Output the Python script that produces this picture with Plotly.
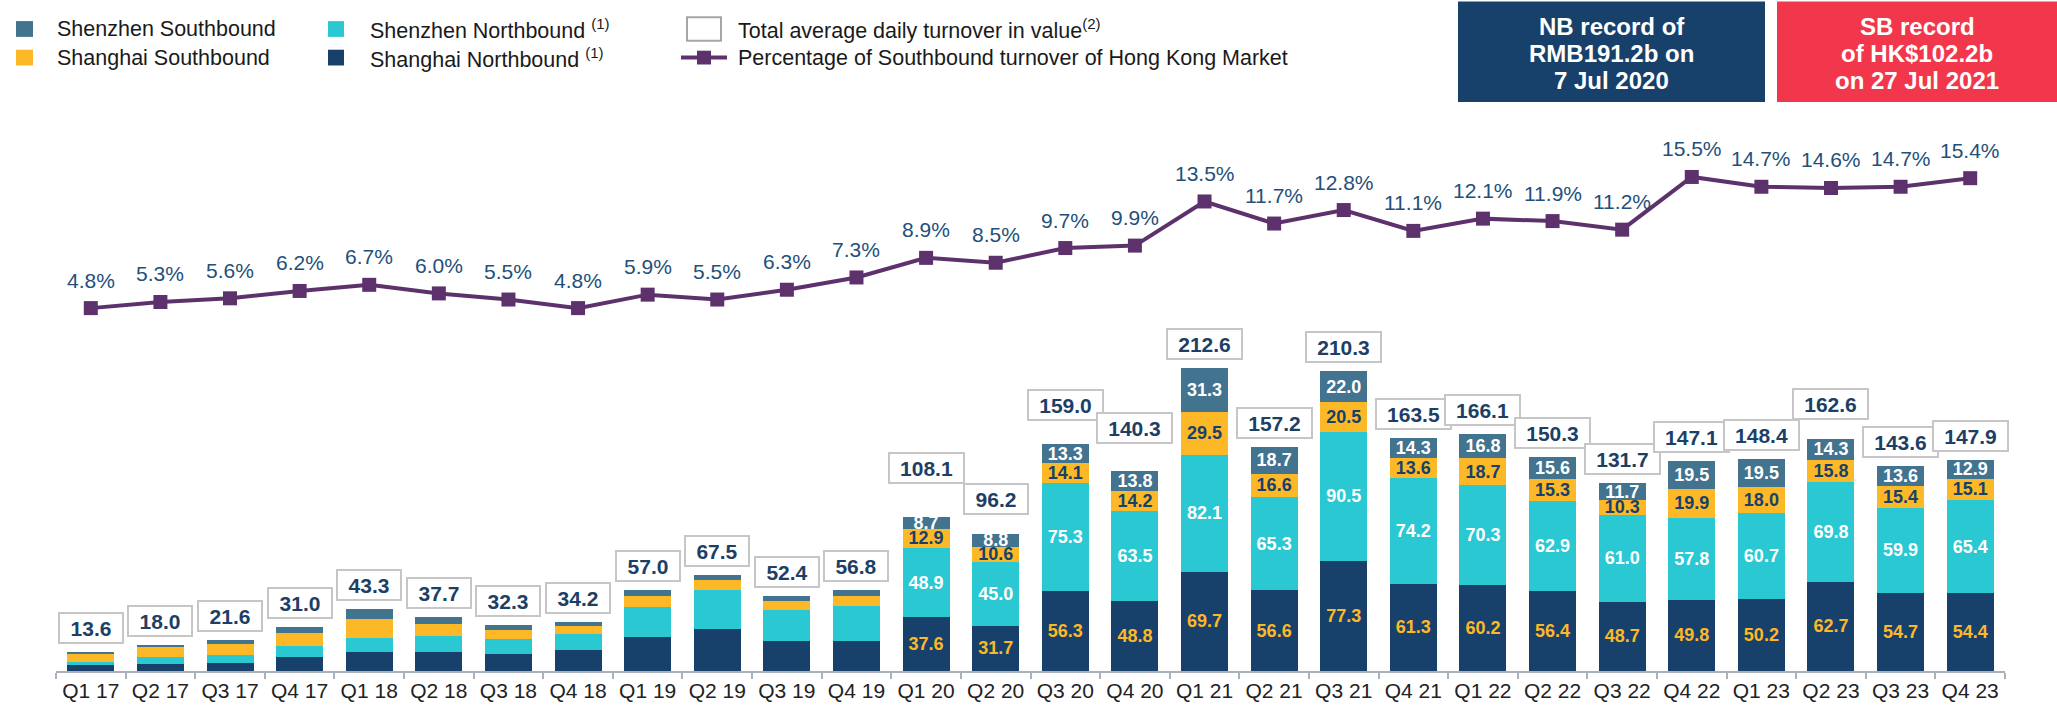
import plotly.graph_objects as go

# ---------------- data ----------------
quarters = ["Q1 17", "Q2 17", "Q3 17", "Q4 17", "Q1 18", "Q2 18", "Q3 18", "Q4 18",
            "Q1 19", "Q2 19", "Q3 19", "Q4 19", "Q1 20", "Q2 20", "Q3 20", "Q4 20",
            "Q1 21", "Q2 21", "Q3 21", "Q4 21", "Q1 22", "Q2 22", "Q3 22", "Q4 22",
            "Q1 23", "Q2 23", "Q3 23", "Q4 23"]
shanghai_nb = [3.9, 5.0, 5.9, 9.6, 13.2, 13.5, 12.1, 14.8, 24.0, 29.8, 20.8, 21.3,
               37.6, 31.7, 56.3, 48.8, 69.7, 56.6, 77.3, 61.3, 60.2, 56.4, 48.7, 49.8,
               50.2, 62.7, 54.7, 54.4]
shenzhen_nb = [2.4, 4.5, 5.0, 8.2, 10.2, 11.2, 10.2, 11.2, 20.8, 27.0, 21.8, 24.1,
               48.9, 45.0, 75.3, 63.5, 82.1, 65.3, 90.5, 74.2, 70.3, 62.9, 61.0, 57.8,
               60.7, 69.8, 59.9, 65.4]
shanghai_sb = [6.3, 7.1, 8.3, 9.0, 13.4, 8.1, 6.3, 5.4, 7.6, 7.0, 6.3, 7.0,
               12.9, 10.6, 14.1, 14.2, 29.5, 16.6, 20.5, 13.6, 18.7, 15.3, 10.3, 19.9,
               18.0, 15.8, 15.4, 15.1]
shenzhen_sb = [1.0, 1.4, 2.4, 4.2, 6.5, 4.9, 3.7, 2.8, 4.6, 3.7, 3.5, 4.4,
               8.7, 8.8, 13.3, 13.8, 31.3, 18.7, 22.0, 14.3, 16.8, 15.6, 11.7, 19.5,
               19.5, 14.3, 13.6, 12.9]
totals = [13.6, 18.0, 21.6, 31.0, 43.3, 37.7, 32.3, 34.2, 57.0, 67.5, 52.4, 56.8,
          108.1, 96.2, 159.0, 140.3, 212.6, 157.2, 210.3, 163.5, 166.1, 150.3, 131.7, 147.1,
          148.4, 162.6, 143.6, 147.9]
sb_pct = [4.8, 5.3, 5.6, 6.2, 6.7, 6.0, 5.5, 4.8, 5.9, 5.5, 6.3, 7.3,
          8.9, 8.5, 9.7, 9.9, 13.5, 11.7, 12.8, 11.1, 12.1, 11.9, 11.2, 15.5,
          14.7, 14.6, 14.7, 15.4]

# ---------------- style ----------------
FONT = "Arial, Liberation Sans, sans-serif"
C_SHNB = "#17416b"
C_SZNB = "#29c8d2"
C_SHSB = "#fdb827"
C_SZSB = "#42738f"
C_LINE = "#5d326c"
C_TXT = "#1d3f66"
C_PCT = "#23507a"
C_AXIS = "#a9b1bb"
LABEL_FROM = 12          # segment labels are shown from Q1 20 onwards
box_lift = [24] * len(quarters)   # pixel lift of the total boxes above the bar tops
for i, v in {12: 49, 13: 35, 14: 39, 15: 43, 25: 35}.items():
    box_lift[i] = v

W, H = 2057, 714
ML, MR, MT, MB = 56, 52, 100, 35
PW, PH = W - ML - MR, H - MT - MB


def pxx(x):
    return (x - ML) / PW


def pxy(y):
    return (H - MB - y) / PH


def seg_text(vals):
    return [f"<b>{v:.1f}</b>" if i >= LABEL_FROM else "" for i, v in enumerate(vals)]


fig = go.Figure()
for name, vals, col, tcol in [
    ("Shanghai Northbound", shanghai_nb, C_SHNB, C_SHSB),
    ("Shenzhen Northbound", shenzhen_nb, C_SZNB, "#ffffff"),
    ("Shanghai Southbound", shanghai_sb, C_SHSB, C_SHNB),
    ("Shenzhen Southbound", shenzhen_sb, C_SZSB, "#ffffff"),
]:
    fig.add_trace(go.Bar(
        x=quarters, y=vals, name=name, marker=dict(color=col, line=dict(width=0)),
        text=seg_text(vals), texttemplate="%{text}", textposition="inside",
        insidetextanchor="middle", textangle=0,
        textfont=dict(family=FONT, size=18, color=tcol), constraintext="none",
        cliponaxis=False,
    ))

fig.add_trace(go.Scatter(
    x=quarters, y=sb_pct, yaxis="y2", mode="lines+markers",
    line=dict(color=C_LINE, width=4),
    marker=dict(symbol="square", size=14, color=C_LINE),
    name="Percentage of Southbound turnover of Hong Kong Market",
))

annotations = []
for q, v in zip(quarters, sb_pct):
    annotations.append(dict(x=q, y=v, xref="x", yref="y2", text=f"{v:.1f}%",
                            showarrow=False, yshift=28,
                            font=dict(family=FONT, size=21, color=C_PCT)))
for i, (q, t) in enumerate(zip(quarters, totals)):
    s = f"{t:.1f}"
    annotations.append(dict(x=q, y=t, xref="x", yref="y", text=f"<b>{s}</b>",
                            showarrow=False, yshift=box_lift[i], yanchor="middle",
                            width=60 if len(s) <= 4 else 71, height=26,
                            bgcolor="#ffffff", bordercolor="#c6c6c6", borderwidth=2,
                            borderpad=1,
                            font=dict(family=FONT, size=21, color=C_TXT)))

shapes = []
# legend swatches
leg_rows = [28, 57]
legend_items = [
    (16, 33, leg_rows[0], C_SZSB, 55, "Shenzhen Southbound"),
    (16, 33, leg_rows[1], C_SHSB, 55, "Shanghai Southbound"),
    (328, 344, leg_rows[0], C_SZNB, 368, "Shenzhen Northbound <sup>(1)</sup>"),
    (328, 344, leg_rows[1], C_SHNB, 368, "Shanghai Northbound <sup>(1)</sup>"),
]
LEG_FONT = dict(family=FONT, size=21.5, color="#1a1a1a")
for x0, x1, yc, col, tx, txt in legend_items:
    shapes.append(dict(type="rect", xref="paper", yref="paper",
                       x0=pxx(x0), x1=pxx(x1), y0=pxy(yc + 8), y1=pxy(yc - 8),
                       fillcolor=col, line=dict(width=0)))
    annotations.append(dict(xref="paper", yref="paper", x=pxx(tx), y=pxy(yc),
                            xanchor="left", yanchor="middle", showarrow=False, text=txt,
                            font=LEG_FONT))
shapes.append(dict(type="rect", xref="paper", yref="paper",
                   x0=pxx(687), x1=pxx(721), y0=pxy(40), y1=pxy(16),
                   fillcolor="#ffffff", line=dict(color="#a6a6a6", width=2)))
annotations.append(dict(xref="paper", yref="paper", x=pxx(736), y=pxy(leg_rows[0]),
                        xanchor="left", yanchor="middle", showarrow=False,
                        text="Total average daily turnover in value<sup>(2)</sup>",
                        font=LEG_FONT))
shapes.append(dict(type="line", xref="paper", yref="paper",
                   x0=pxx(681), x1=pxx(727), y0=pxy(leg_rows[1]), y1=pxy(leg_rows[1]),
                   line=dict(color=C_LINE, width=4)))
shapes.append(dict(type="rect", xref="paper", yref="paper",
                   x0=pxx(697), x1=pxx(711), y0=pxy(leg_rows[1] + 7), y1=pxy(leg_rows[1] - 7),
                   fillcolor=C_LINE, line=dict(width=0)))
annotations.append(dict(xref="paper", yref="paper", x=pxx(736), y=pxy(leg_rows[1]),
                        xanchor="left", yanchor="middle", showarrow=False,
                        text="Percentage of Southbound turnover of Hong Kong Market",
                        font=LEG_FONT))

# record boxes
for x0, x1, col, lines in [
    (1458, 1765, "#17416b", ["NB record of", "RMB191.2b on", "7 Jul 2020"]),
    (1777, 2057, "#f2374c", ["SB record", "of HK$102.2b", "on 27 Jul 2021"]),
]:
    shapes.append(dict(type="rect", xref="paper", yref="paper",
                       x0=pxx(x0), x1=pxx(x1), y0=pxy(102), y1=pxy(0),
                       fillcolor=col, line=dict(width=0)))
    for ly, t in zip([25, 53, 80], lines):
        annotations.append(dict(xref="paper", yref="paper", x=pxx((x0 + x1) / 2), y=pxy(ly),
                                xanchor="center", yanchor="middle", showarrow=False,
                                text=f"<b>{t}</b>",
                                font=dict(family=FONT, size=24, color="#ffffff")))

y_top = PH / 1.446
fig.update_layout(
    width=W, height=H, margin=dict(l=ML, r=MR, t=MT, b=MB),
    barmode="stack", bargap=0.325, showlegend=False,
    paper_bgcolor="#ffffff", plot_bgcolor="#ffffff",
    uniformtext=dict(minsize=18, mode="show"),
    xaxis=dict(type="category", range=[-0.5, len(quarters) - 0.5],
               tickson="boundaries", ticks="outside", ticklen=6, tickwidth=2,
               tickcolor=C_AXIS, showline=True, linecolor=C_AXIS, linewidth=2,
               showgrid=False, tickfont=dict(family=FONT, size=21, color="#222222"),
               fixedrange=True),
    yaxis=dict(range=[0, y_top], visible=False, showgrid=False, fixedrange=True),
    yaxis2=dict(range=[-(679 - 370.7) / 12.43, (370.7 - 100) / 12.43], overlaying="y",
                visible=False, showgrid=False, fixedrange=True),
    annotations=annotations, shapes=shapes,
)

fig.write_html("out.html", config={"displayModeBar": False},
               post_script="document.body.style.margin='0';document.body.style.overflow='hidden';")
